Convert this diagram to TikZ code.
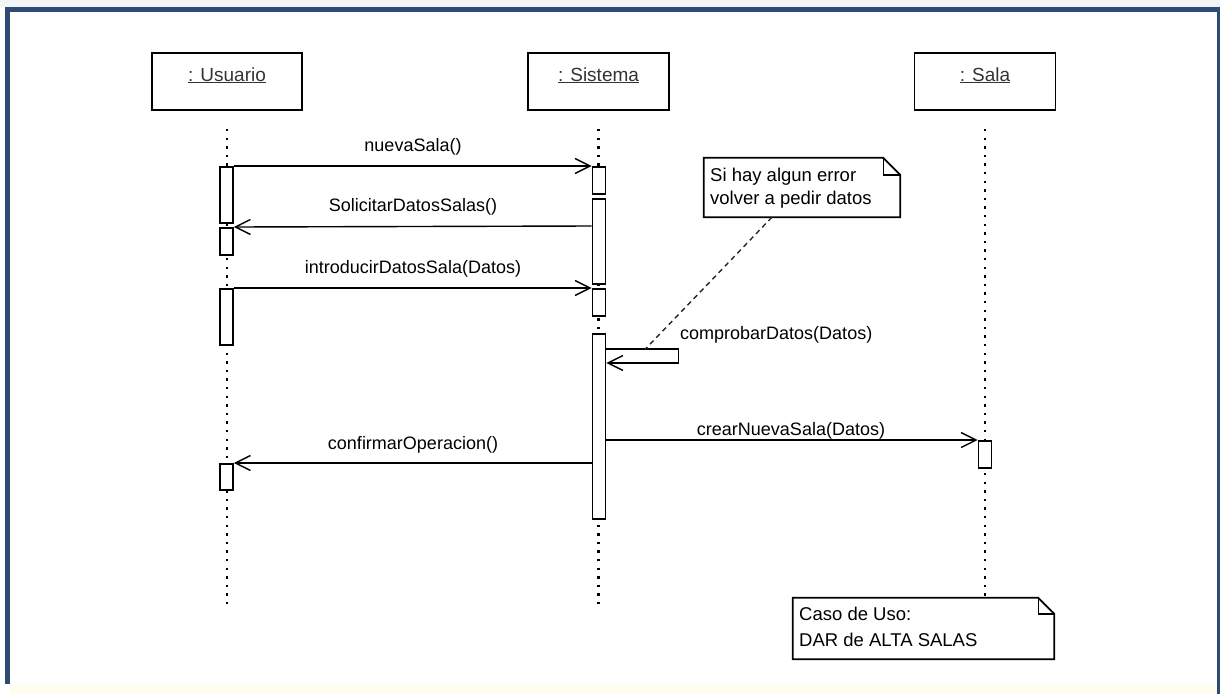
\documentclass[tikz,border=0pt]{standalone}
\usepackage{fontspec}
\setmainfont{Liberation Sans}
\usetikzlibrary{arrows.meta,calc}
\definecolor{frameblue}{HTML}{2E4B73}
\definecolor{topband}{HTML}{F1F5F6}
\definecolor{bottomband}{HTML}{FFFDF0}
\begin{document}
\begin{tikzpicture}[x=1pt,y=-1pt,
  head/.style={draw=black, line width=1.8, fill=white, minimum width=141, minimum height=57, inner sep=0},
  headlbl/.style={anchor=base, inner sep=0, text=black!80, font=\fontsize{19}{22}\selectfont},
  bar/.style={draw=black, line width=1.8, fill=white, minimum width=13, inner sep=0, anchor=north},
  life/.style={line width=2.2, dash pattern=on 2.4 off 6.2},
  msg/.style={line width=1.4, -{Straight Barb[length=15,width=15,line width=1.4]}},
  lbl/.style={anchor=base, inner sep=0, text=black, font=\fontsize{18}{22}\selectfont},
  notebox/.style={minimum width=#1, inner sep=0},
  noteline/.style={draw=black, line width=1.8, fill=white, line join=miter},
  notetxt/.style={anchor=base west, inner sep=0, font=\fontsize{18.5}{22}\selectfont},
  notelink/.style={line width=1.4, dash pattern=on 5 off 4, black!85}
]
\useasboundingbox (0,0) rectangle (1220,694);
% page and frame
\fill[white] (0,0) rectangle (1220,694);
\fill[topband] (0,0) rectangle (1220,7);
\fill[bottomband] (10,685) rectangle (1217,694);
\fill[frameblue] (5,7) rectangle (1220,12);
\fill[frameblue] (5,7) rectangle (10,684);
\fill[frameblue] (1217,7) rectangle (1220,694);

% lifeline heads
\node[head, minimum width=150] (usr) at (227,81.5) {};
\node[head] (sis) at (598.5,81.5) {};
\node[head] (sal) at (985,81.5) {};
\node[headlbl] (usrl) at (227,81) {\underline{: Usuario}};
\node[headlbl] (sisl) at (598.5,81) {\underline{: Sistema}};
\node[headlbl] (sall) at (985,81) {\underline{: Sala}};

% lifelines
\coordinate (usrEnd) at (227,607);
\coordinate (sisEnd) at (598.5,607);
\coordinate (salEnd) at (985,598);
\draw[life] ($(usr.south)+(0,18)$) -- (usrEnd);
\draw[life] ($(sis.south)+(0,18)$) -- (sisEnd);
\draw[life] ($(sal.south)+(0,18)$) -- (salEnd);

% activation bars
\node[bar, minimum height=56] (u1) at (226.5,166) {};
\node[bar, minimum height=27] (u2) at (226.5,227) {};
\node[bar, minimum height=56] (u3) at (226.5,288) {};
\node[bar, minimum height=26] (u4) at (226.5,463) {};
\node[bar, minimum height=27] (s1) at (599,166) {};
\node[bar, minimum height=85] (s2) at (599,198) {};
\node[bar, minimum height=27] (s3) at (599,288) {};
\node[bar, minimum height=185] (s4) at (599,333) {};
\node[bar, minimum height=27] (l1) at (985,440) {};

% messages
\draw[msg] (u1.north east) -- (s1.north west);
\node[lbl] (m1) at (413,151) {nuevaSala()};

\draw[msg] (s2.west |- 0,226) -- (u2.north east);
\node[lbl] (m2) at (413,211) {SolicitarDatosSalas()};

\draw[msg] (u3.north east) -- (s3.north west);
\node[lbl] (m3) at (413,273) {introducirDatosSala(Datos)};

\coordinate (selfA) at ($(s4.north east)+(0,16)$);
\coordinate (selfB) at ($(selfA)+(0,14)$);
\draw[msg] (selfA) -- ++(72,0) -- ++(0,14) -- (selfB);
\node[lbl, anchor=base west] (m4) at (680,339) {comprobarDatos(Datos)};

\draw[msg] (s4.east |- l1.north) -- (l1.north west);
\node[lbl] (m5) at (791,435) {crearNuevaSala(Datos)};

\draw[msg] (s4.west |- u4.north) -- (u4.north east);
\node[lbl] (m6) at (413,449) {confirmarOperacion()};

% note on the self call
\node[notebox=196, minimum height=59] (n1) at (802,187.5) {};
\draw[noteline] (n1.north west) -- ($(n1.north east)+(-17,0)$) -- ($(n1.north east)+(0,17)$)
  -- (n1.south east) -- (n1.south west) -- cycle;
\draw[line width=1.4] ($(n1.north east)+(-17,0)$) -- ++(0,17) -- ($(n1.north east)+(0,17)$);
\node[notetxt] (n1a) at (710,181) {Si hay algun error};
\node[notetxt] (n1b) at (710,204) {volver a pedir datos};
\draw[notelink] ($(n1.south west)!0.347!(n1.south east)$) -- ($(selfA)+(39,0)$);

% use case note
\node[notebox=261, minimum height=61] (n2) at (923.5,628.5) {};
\draw[noteline] (n2.north west) -- ($(n2.north east)+(-16,0)$) -- ($(n2.north east)+(0,16)$)
  -- (n2.south east) -- (n2.south west) -- cycle;
\draw[line width=1.4] ($(n2.north east)+(-16,0)$) -- ++(0,16) -- ($(n2.north east)+(0,16)$);
\node[notetxt] (n2a) at (799,620) {Caso de Uso:};
\node[notetxt] (n2b) at (799,646) {DAR de ALTA SALAS};
\end{tikzpicture}
\end{document}
